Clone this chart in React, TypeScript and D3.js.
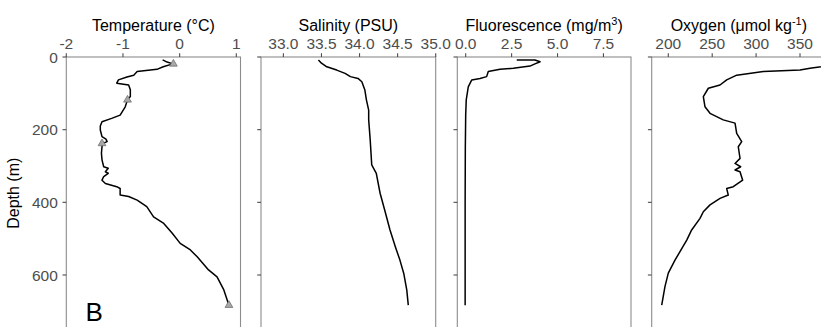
import React from "react";
import * as d3 from "d3";

const depthTicks = [0, 200, 400, 600];

const tempDepth = [8, 14, 19, 27, 34, 40, 50, 55, 63, 72, 77, 90, 109, 118, 137, 160, 169, 178, 190, 201, 219, 226, 233, 238, 247, 265, 283, 302, 306, 316, 320, 329, 339, 348, 357, 362, 380, 384, 394, 412, 440, 458, 485, 513, 531, 550, 586, 605, 641, 683];
const tempValues = [-0.30, -0.22, -0.12, -0.29, -0.40, -0.75, -0.81, -0.93, -1.08, -1.11, -0.90, -0.87, -0.87, -0.92, -0.96, -1.05, -1.20, -1.37, -1.40, -1.40, -1.37, -1.30, -1.28, -1.36, -1.37, -1.38, -1.37, -1.34, -1.26, -1.31, -1.26, -1.34, -1.37, -1.31, -1.11, -1.05, -1.05, -0.90, -0.75, -0.58, -0.46, -0.28, -0.13, 0.01, 0.19, 0.31, 0.51, 0.66, 0.78, 0.87];
const bottleDepth = [19, 118, 238, 683];
const bottleTemp = [-0.11, -0.92, -1.37, 0.87];

const salDepth = [8, 17, 27, 36, 45, 54, 59, 68, 91, 118, 146, 173, 228, 297, 320, 375, 421, 476, 522, 559, 595, 641, 683];
const salValues = [33.46, 33.50, 33.57, 33.70, 33.81, 33.88, 33.98, 34.03, 34.07, 34.09, 34.12, 34.12, 34.14, 34.16, 34.22, 34.27, 34.33, 34.40, 34.47, 34.53, 34.58, 34.62, 34.64];

const fluoDepth = [8, 8.5, 13, 19, 25, 31, 34, 40, 54, 59, 63, 82, 118, 160, 250, 400, 550, 683];
const fluoValues = [2.78, 3.77, 4.05, 3.77, 3.50, 2.59, 1.87, 1.23, 1.14, 0.78, 0.33, 0.14, 0.03, 0.0, -0.02, -0.03, -0.03, -0.03];

const oxyDepth = [18, 24, 27, 31, 36, 40, 50, 63, 77, 86, 109, 137, 155, 173, 182, 210, 233, 247, 279, 293, 302, 311, 316, 339, 357, 362, 380, 389, 407, 426, 444, 476, 504, 536, 559, 595, 632, 683];
const oxyValues = [385, 378, 373.9, 361.4, 350, 308.2, 277.9, 266.5, 258.9, 245.6, 239.9, 241.8, 247.5, 262.6, 276, 277.9, 283.6, 279.7, 281.7, 276, 282.4, 276, 281.7, 284.7, 274, 266.5, 268.3, 258.9, 247.5, 239.9, 236.1, 226.6, 221, 213.3, 207.6, 200, 196.2, 192.5];

const tempTicks = [-2, -1, 0, 1];
const salTicks = [33.0, 33.5, 34.0, 34.5, 35.0];
const fluoTicks = [0, 2.5, 5.0, 7.5];
const oxyTicks = [200, 250, 300, 350];

const FONT = "'Liberation Sans', Arial, sans-serif";
const TOP = 57;

export default function App() {
  const y = d3.scaleLinear().domain([0, 750]).range([TOP, TOP + 272.5]);

  const panels = [
    { key: "t", x0: 66.3, x1: 240.5, domain: [-2, 1.074], ticks: tempTicks, fmt: (v: number) => d3.format("d")(v).replace("−", "-"), depth: tempDepth, vals: tempValues },
    { key: "s", x0: 261, x1: 435.7, domain: [32.706, 35.0], ticks: salTicks, fmt: d3.format(".1f"), depth: salDepth, vals: salValues },
    { key: "f", x0: 457.3, x1: 631, domain: [-0.457, 9.0], ticks: fluoTicks, fmt: d3.format(".1f"), depth: fluoDepth, vals: fluoValues },
    { key: "o", x0: 651.7, x1: 826, domain: [181.1, 379.6], ticks: oxyTicks, fmt: d3.format("d"), depth: oxyDepth, vals: oxyValues },
  ];

  const titles: React.ReactNode[] = [
    <>Temperature (°C)</>,
    <>Salinity (PSU)</>,
    <>Fluorescence (mg/m<tspan dy={-6} fontSize={11}>3</tspan><tspan dy={6}>)</tspan></>,
    <>Oxygen (μmol kg<tspan dy={-6} fontSize={11}>-1</tspan><tspan dy={6}>)</tspan></>,
  ];

  const borderColor = "#8c8c8c";
  const tickColor = "#4d4d4d";

  return (
    <svg width={821} height={327} style={{ position: "absolute", left: 0, top: 0, background: "#fff" }} fontFamily={FONT}>
      {panels.map((p, i) => {
        const x = d3.scaleLinear().domain(p.domain).range([p.x0, p.x1]);
        const line = d3.line<number>().x((d) => x(p.vals[d])).y((d) => y(p.depth[d]));
        const idx = p.vals.map((_, k) => k);
        const cx = (p.x0 + p.x1) / 2;
        return (
          <g key={p.key}>
            <rect x={p.x0} y={TOP} width={p.x1 - p.x0} height={y(750) - TOP} fill="none" stroke={borderColor} strokeWidth={1.1} />
            {p.ticks.map((t) => (
              <g key={t}>
                <line x1={x(t)} x2={x(t)} y1={TOP - 3.8} y2={TOP} stroke={tickColor} strokeWidth={1.1} />
                <text x={x(t)} y={49.3} textAnchor="middle" fontSize={15.5} fill={tickColor}>{p.fmt(t)}</text>
              </g>
            ))}
            {depthTicks.map((t) => (
              <g key={"d" + t}>
                <line x1={p.x0 - 3.8} x2={p.x0} y1={y(t)} y2={y(t)} stroke={tickColor} strokeWidth={1.1} />
                {i === 0 && (
                  <text x={p.x0 - 8.5} y={y(t)} dy="0.36em" textAnchor="end" fontSize={15.5} fill={tickColor}>{t}</text>
                )}
              </g>
            ))}
            <text x={cx} y={30.5} textAnchor="middle" fontSize={16} fill="#000">{titles[i]}</text>
            <path d={line(idx) || ""} fill="none" stroke="#000" strokeWidth={1.5} strokeLinejoin="round" />
            {i === 0 && bottleDepth.map((d, k) => (
              <path key={k} transform={`translate(${x(bottleTemp[k])},${y(d)})`} d={d3.symbol(d3.symbolTriangle, 26)() || ""} fill="#a8a8a8" stroke="#6e6e6e" strokeWidth={0.8} />
            ))}
          </g>
        );
      })}
      <text transform={`translate(19,${(TOP + y(750)) / 2}) rotate(-90)`} textAnchor="middle" fontSize={16} fill="#000">Depth (m)</text>
      <text x={85.5} y={321} fontSize={26} fill="#000">B</text>
    </svg>
  );
}
